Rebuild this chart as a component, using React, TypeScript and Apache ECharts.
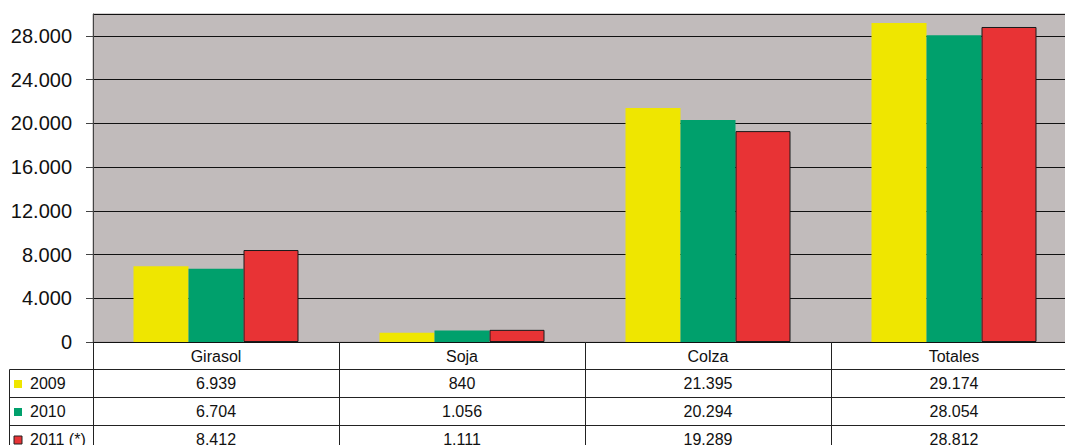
import React, { useEffect, useRef } from "react";
import * as echarts from "echarts";

const categories = ["Girasol", "Soja", "Colza", "Totales"];
const seriesNames = ["2009", "2010", "2011 (*)"];
const values2009 = [6939, 840, 21395, 29174];
const values2010 = [6704, 1056, 20294, 28054];
const values2011 = [8412, 1111, 19289, 28812];
const seriesValues = [values2009, values2010, values2011];
const seriesColors = ["#efe600", "#00a06c", "#e83335"];
const yMax = 30000;
const yInterval = 4000;

const fmt = (n: number) => String(n).replace(/\B(?=(\d{3})+(?!\d))/g, ".");

const FONT = "'Liberation Sans', Arial, sans-serif";
const W = 1065;
const H = 445;
const GRID_LEFT = 93;
const GRID_TOP = 14;
const GRID_BOTTOM = 103;
const GRID_WIDTH = 984;
const HEADER_H = 27;
const ROW_H = 28;
const TABLE_LEFT = 9.5;

export default function App() {
  const ref = useRef<HTMLDivElement>(null);
  useEffect(() => {
    if (!ref.current) return;
    const chart = echarts.init(ref.current, undefined, { renderer: "svg" });
    chart.setOption({
      animation: false,
      textStyle: { fontFamily: FONT },
      grid: {
        left: GRID_LEFT,
        width: GRID_WIDTH,
        top: GRID_TOP,
        bottom: GRID_BOTTOM,
        outerBoundsMode: "none",
        containLabel: false,
        show: true,
        backgroundColor: "#c1bbbb",
        borderColor: "#a8a2a2",
        borderWidth: 1,
      },
      xAxis: {
        type: "category",
        data: categories,
        axisLine: { show: true, lineStyle: { color: "#111", width: 1 } },
        axisTick: { show: true, length: GRID_BOTTOM, lineStyle: { color: "#222", width: 1 } },
        axisLabel: { color: "#111", fontSize: 16, fontFamily: FONT, margin: 6, lineHeight: 16 },
      },
      yAxis: {
        type: "value",
        min: 0,
        max: yMax,
        interval: yInterval,
        axisLine: { show: true, lineStyle: { color: "#444", width: 1 } },
        axisTick: { show: true, length: 7, lineStyle: { color: "#444" } },
        axisLabel: {
          color: "#111",
          fontSize: 20,
          fontFamily: FONT,
          margin: 21,
          showMaxLabel: false,
          formatter: (v: number) => (v % yInterval === 0 ? fmt(v) : ""),
        },
        splitLine: { show: true, lineStyle: { color: "#111", width: 1 } },
      },
      series: seriesValues.map((vals, i) => ({
        type: "bar",
        name: seriesNames[i],
        data: vals,
        barWidth: 55,
        barGap: "0%",
        itemStyle: {
          color: seriesColors[i],
          borderColor: i === 2 ? "#1a1a1a" : seriesColors[i],
          borderWidth: i === 2 ? 1 : 0,
        },
      })),
    });

    const baseY = H - GRID_BOTTOM;
    const rightX = GRID_LEFT + GRID_WIDTH;
    const elements: any[] = [];
    for (let r = 0; r < seriesNames.length; r++) {
      const y = Math.round(baseY + HEADER_H + r * ROW_H) + 0.5;
      elements.push({
        type: "line",
        shape: { x1: TABLE_LEFT, y1: y, x2: rightX, y2: y },
        style: { stroke: "#222", lineWidth: 1 },
        silent: true,
      });
    }
    elements.push({
      type: "line",
      shape: { x1: TABLE_LEFT, y1: baseY + HEADER_H + 0.5, x2: TABLE_LEFT, y2: H + 20 },
      style: { stroke: "#222", lineWidth: 1 },
      silent: true,
    });
    seriesNames.forEach((name, r) => {
      const cy = baseY + HEADER_H + r * ROW_H + ROW_H / 2 + 0.5;
      elements.push({
        type: "rect",
        shape: { x: 14, y: Math.round(cy - 4), width: 8, height: 8 },
        style: { fill: seriesColors[r], stroke: r === 2 ? "#222" : seriesColors[r], lineWidth: r === 2 ? 1 : 0 },
        silent: true,
      });
      elements.push({
        type: "text",
        x: 30,
        y: cy,
        style: {
          text: name,
          font: `16px ${FONT}`,
          fill: "#111",
          textAlign: "left",
          textVerticalAlign: "middle",
        },
        silent: true,
      });
      seriesValues[r].forEach((v, c) => {
        const px = chart.convertToPixel({ xAxisIndex: 0 }, categories[c]) as number;
        elements.push({
          type: "text",
          x: px,
          y: cy,
          style: {
            text: fmt(v),
            font: `16px ${FONT}`,
            fill: "#111",
            textAlign: "center",
            textVerticalAlign: "middle",
          },
          silent: true,
        });
      });
    });
    chart.setOption({ graphic: { elements } });

    return () => chart.dispose();
  }, []);
  return (
    <div
      ref={ref}
      style={{ position: "absolute", left: 0, top: 0, width: W, height: H, background: "#fff" }}
    />
  );
}
